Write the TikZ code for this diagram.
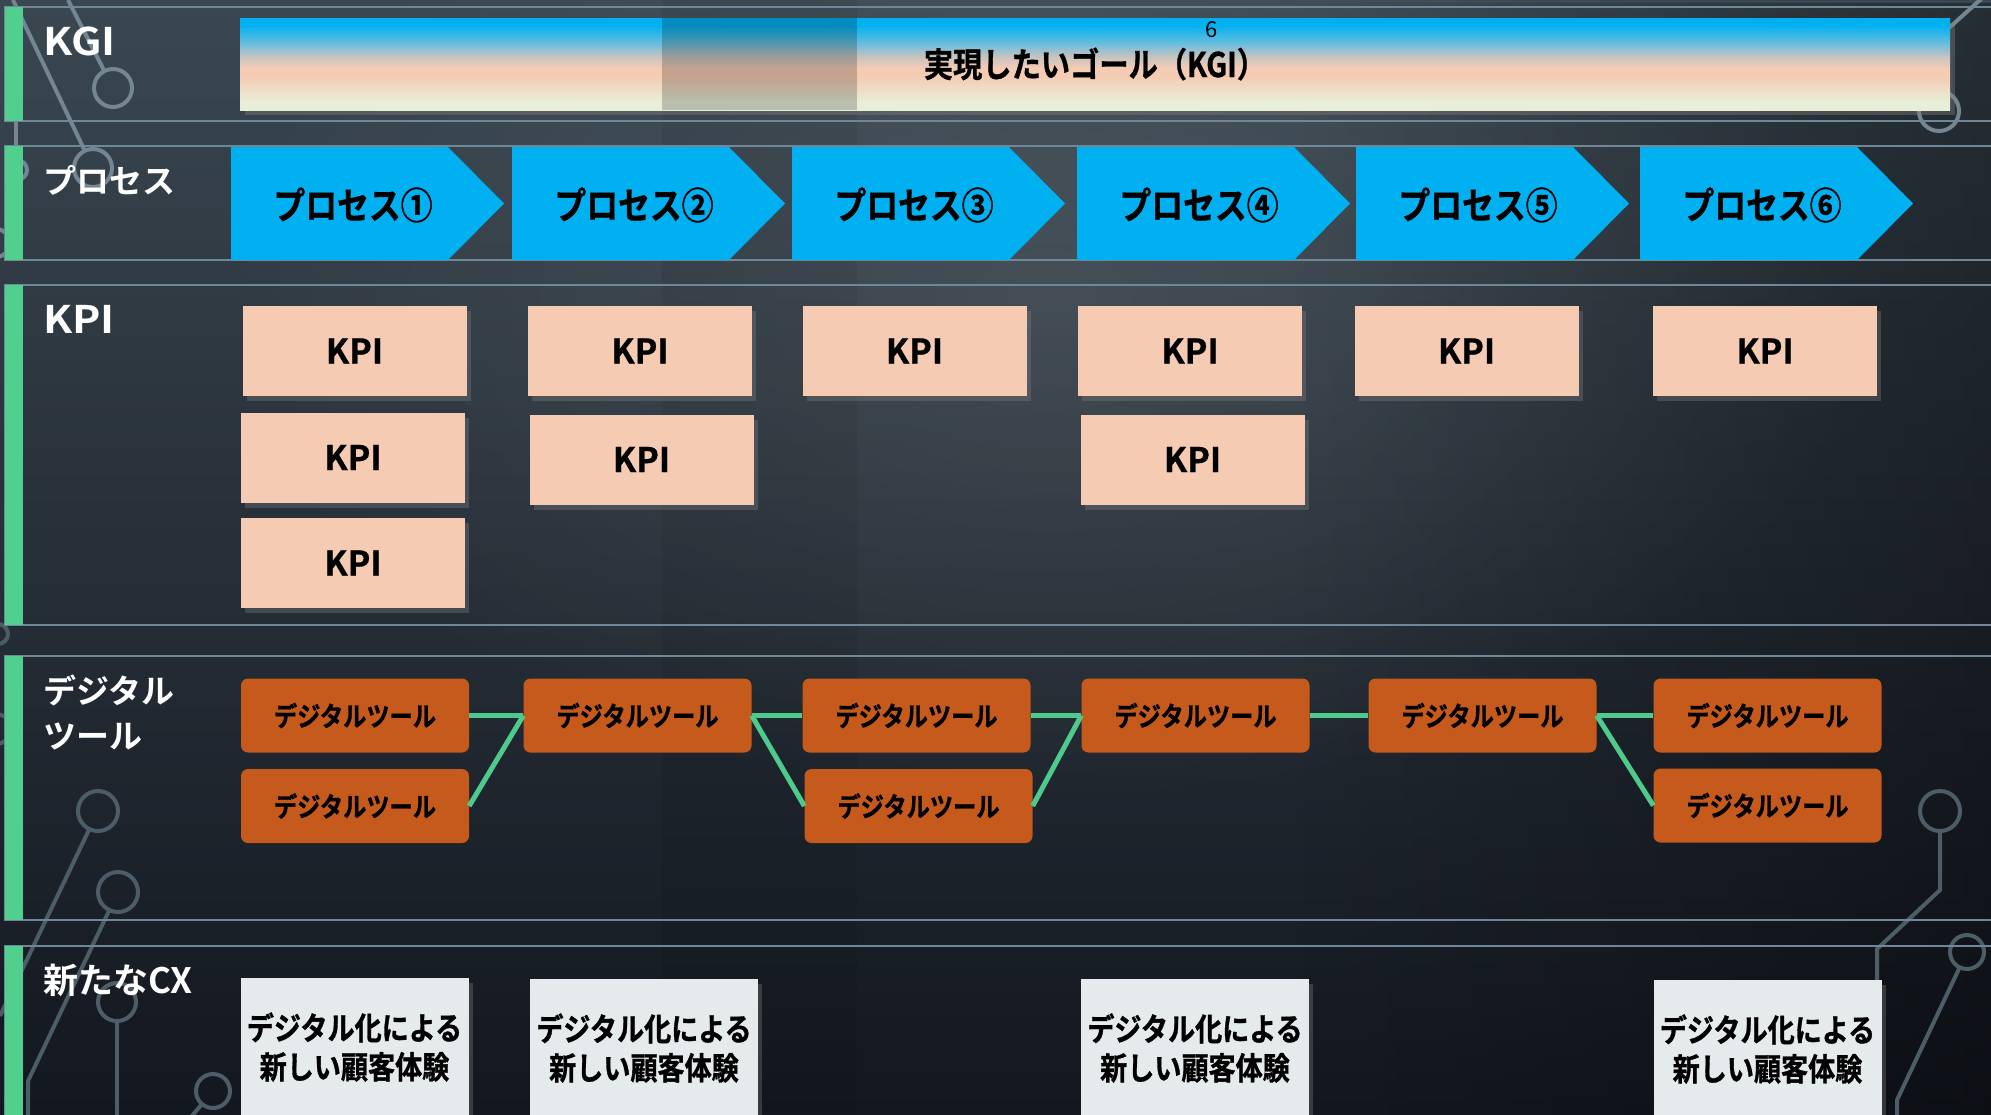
\documentclass[tikz,border=0pt]{standalone}
\usepackage{fontspec}
\newfontfamily\jpw{Noto Sans CJK JP}[BoldFont=* Bold]
\newfontfamily\jpwide{Noto Sans CJK JP}[BoldFont=* Bold, FakeStretch=1.12]
\newfontfamily\jpn{Noto Sans CJK JP}[BoldFont=* Bold, FakeStretch=0.86, FakeBold=1.0]
\newfontfamily\jpk{Noto Sans CJK JP}[BoldFont=* Bold, FakeBold=0.8]
\usetikzlibrary{shadows,fadings}

\definecolor{bgtop}{HTML}{3A4751}
\definecolor{bgbot}{HTML}{13171F}
\definecolor{bandline}{HTML}{6F8796}
\definecolor{barg}{HTML}{50CF8F}
\definecolor{linkg}{HTML}{4ECB8C}
\definecolor{procblue}{HTML}{00B0F0}
\definecolor{kpipeach}{HTML}{F5CBB4}
\definecolor{toolorange}{HTML}{C55A1C}
\definecolor{cxgray}{HTML}{E5EAED}
\definecolor{circa}{HTML}{738691}
\definecolor{circb}{HTML}{4D5D68}
\definecolor{kgicream}{HTML}{E8EFD9}
\definecolor{kgipeach}{HTML}{F4CCB4}
\definecolor{kgigray}{HTML}{C6C3C0}
\definecolor{kgilblue}{HTML}{5FBDE0}
\definecolor{kgiblue}{HTML}{02B0EF}

\pgfdeclareverticalshading{kgishade}{100bp}{color(0bp)=(kgicream); color(29bp)=(kgicream); color(43bp)=(kgipeach); color(48bp)=(kgipeach); color(54bp)=(kgigray); color(62bp)=(kgilblue); color(71bp)=(kgiblue); color(100bp)=(kgiblue)}

\tikzfading[name=myglow, inner color=transparent!0, outer color=transparent!100]
\tikzfading[name=myright, left color=transparent!100, right color=transparent!0]

\newcommand\mylabfont{\jpw\bfseries\fontsize{33}{45}\selectfont}
\newcommand\mylatfont{\jpwide\bfseries\fontsize{38}{45}\selectfont}
\newcommand\mycxlabfont{\jpw\bfseries\fontsize{35}{45}\selectfont}
\newcommand\myprocfont{\jpn\bfseries\fontsize{37}{44}\selectfont}
\newcommand\mykpifont{\jpk\bfseries\fontsize{34}{40}\selectfont}
\newcommand\mytoolfont{\jpn\bfseries\fontsize{27}{32}\selectfont}
\newcommand\mycxfont{\jpn\bfseries\fontsize{31.5}{39}\selectfont}
\newcommand\mykgifont{\jpn\bfseries\fontsize{34}{40}\selectfont}
\newcommand\mysixfont{\jpw\fontsize{22}{26}\selectfont}

\tikzset{
  bandframe/.style={draw=bandline, line width=1.5pt},
  greenbar/.style={fill=barg},
  decotop/.style={draw=circa, line width=4pt},
  decolow/.style={draw=circb, line width=4pt},
  bandlabel/.style={text=white, anchor=west, inner sep=0pt, align=left, font=\mylabfont},
  kgibox/.style={shade, shading=kgishade, minimum width=1710pt, minimum height=92pt, inner sep=0pt, font=\mykgifont,
    drop shadow={shadow xshift=5pt, shadow yshift=-5pt, opacity=0.4}},
  procarrow/.style={fill=procblue},
  proctext/.style={inner sep=0pt, font=\myprocfont, text=black},
  kpibox/.style={fill=kpipeach, minimum width=224pt, minimum height=90pt, inner sep=0pt, font=\mykpifont,
    drop shadow={shadow xshift=4pt, shadow yshift=-5pt, opacity=0.35}},
  toolbox/.style={fill=toolorange, rounded corners=7pt, minimum width=228pt, minimum height=74pt, inner sep=0pt, font=\mytoolfont},
  toollink/.style={draw=linkg, line width=5pt},
  cxbox/.style={fill=cxgray, minimum width=228pt, minimum height=138pt, inner sep=0pt, align=center, font=\mycxfont,
    drop shadow={shadow xshift=4pt, shadow yshift=-5pt, opacity=0.35}},
}

\begin{document}
\begin{tikzpicture}[x=1pt,y=-1pt]
\useasboundingbox (0,0) rectangle (1991,1114);
\clip (0,0) rectangle (1991,1114);

% background
\shade[top color=bgtop, bottom color=bgbot] (0,0) rectangle (1991,1114);
\fill[white, opacity=0.10, path fading=myglow] (1050,300) ellipse [x radius=850pt, y radius=520pt];
\fill[black, opacity=0.35, path fading=myright] (1300,0) rectangle (1991,1114);
\fill[black, opacity=0.06] (662,0) rectangle (857,1114);

% circuit decorations
\draw[decotop] (13,0) -- (84.8,150.8);
\draw[decotop] (93,168) circle [radius=19pt];
\draw[decotop] (68,0) -- (104.4,71.1);
\draw[decotop] (113,88) circle [radius=19pt];
\draw[decotop] (16,100) -- (16,160);
\draw[decotop] (17,170) circle [radius=10pt];
\draw[decotop] (-4,243) circle [radius=14pt];
\draw[decotop] (1990,-9) -- (1940,36);
\draw[decotop] (1939,111) circle [radius=20pt];
\draw[decolow] (-2,634) circle [radius=10pt];
\draw[decolow] (-4,729) circle [radius=15pt];
\draw[decolow] (98,811) circle [radius=20pt];
\draw[decolow] (89.4,829) -- (0,1016);
\draw[decolow] (118,892) circle [radius=20pt];
\draw[decolow] (109.4,910) -- (28,1081) -- (28,1130);
\draw[decolow] (117,1002) circle [radius=19pt];
\draw[decolow] (117,1021) -- (117,1130);
\draw[decolow] (213,1091) circle [radius=17pt];
\draw[decolow] (202,1104) -- (180,1130);
\draw[decolow] (1940,811) circle [radius=20pt];
\draw[decolow] (1940,831) -- (1940,890) -- (1877,949) -- (1877,1000);
\draw[decolow] (1967,952) circle [radius=17pt];
\draw[decolow] (1959.7,967.3) -- (1897,1100) -- (1897,1130);

% bands
\foreach \t/\b in {7/121, 146/260, 285/625, 656/920, 946/1130} {
  \draw[bandframe] (5,\t) rectangle (2000,\b);
  \fill[greenbar] (5,\t) rectangle (23,\b);
}

% band labels
\node[bandlabel, font=\mylatfont] (lkgi) at (43,41.5) {KGI};
\node[bandlabel] (lproc) at (43,180) {プロセス};
\node[bandlabel, font=\mylatfont] (lkpi) at (43,319) {KPI};
\node[bandlabel] (ltool) at (43,712) {デジタル\\ツール};
\node[bandlabel, font=\mycxlabfont] (lcx) at (43,980) {新たなCX};

% KGI
\node[kgibox] (kgi) at (1095,64) {実現したいゴール（KGI）};
\fill[black, opacity=0.2] (662,18) rectangle (857,110);
\node[inner sep=0pt, font=\mysixfont] (six) at (1212,30) {6};

% process arrows
\foreach \i/\l/\n in {1/231/①, 2/512/②, 3/792/③, 4/1077/④, 5/1356/⑤, 6/1640/⑥} {
  \fill[procarrow] (\l,147) -- ++(217,0) -- ++(56,56.5) -- ++(-56,56.5) -- ++(-217,0) -- cycle;
  \node[proctext] (p\i) at (\l+122,205) {プロセス\n};
}

% KPI boxes
\node[kpibox] (k1a) at (354.5,351) {KPI};
\node[kpibox] (k1b) at (353,457.5) {KPI};
\node[kpibox] (k1c) at (353,563) {KPI};
\node[kpibox] (k2a) at (640,351) {KPI};
\node[kpibox] (k2b) at (641.5,459.5) {KPI};
\node[kpibox] (k3a) at (914.5,351) {KPI};
\node[kpibox] (k4a) at (1190,351) {KPI};
\node[kpibox] (k4b) at (1192.5,459.5) {KPI};
\node[kpibox] (k5a) at (1466.5,351) {KPI};
\node[kpibox] (k6a) at (1765,351) {KPI};

% digital tools
\node[toolbox] (d1a) at (355,715.5) {デジタルツール};
\node[toolbox] (d1b) at (355,806) {デジタルツール};
\node[toolbox] (d2) at (637.5,715.5) {デジタルツール};
\node[toolbox] (d3a) at (916.5,715.5) {デジタルツール};
\node[toolbox] (d3b) at (918.5,806) {デジタルツール};
\node[toolbox] (d4) at (1195.5,715.5) {デジタルツール};
\node[toolbox] (d5) at (1482.5,715.5) {デジタルツール};
\node[toolbox] (d6a) at (1767.5,715.5) {デジタルツール};
\node[toolbox] (d6b) at (1767.5,805.5) {デジタルツール};

\draw[toollink] (d1a.east) -- (d2.west);
\draw[toollink] (d1b.east) -- (d2.west);
\draw[toollink] (d2.east) -- (d3a.west);
\draw[toollink] (d2.east) -- (d3b.west);
\draw[toollink] (d3a.east) -- (d4.west);
\draw[toollink] (d3b.east) -- (d4.west);
\draw[toollink] (d4.east) -- (d5.west);
\draw[toollink] (d5.east) -- (d6a.west);
\draw[toollink] (d5.east) -- (d6b.west);

% new CX
\node[cxbox] (c1) at (354.5,1047) {デジタル化による\\新しい顧客体験};
\node[cxbox] (c2) at (644,1048) {デジタル化による\\新しい顧客体験};
\node[cxbox] (c4) at (1195,1048) {デジタル化による\\新しい顧客体験};
\node[cxbox] (c6) at (1767.5,1049) {デジタル化による\\新しい顧客体験};
\end{tikzpicture}
\end{document}
